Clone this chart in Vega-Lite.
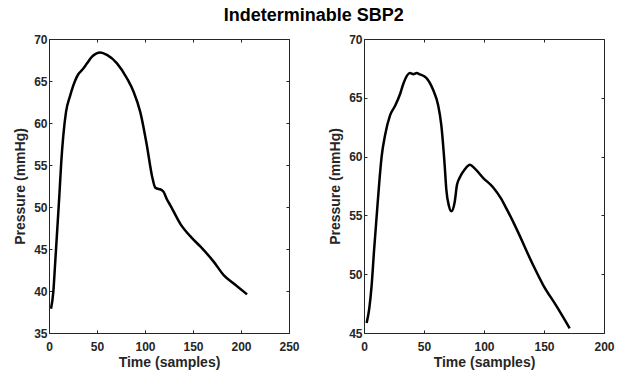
{
  "$schema": "https://vega.github.io/schema/vega-lite/v6.json",
  "background": "white",
  "padding": {"left": 13, "top": 6, "right": 10, "bottom": 0},
  "title": {"text": "Indeterminable SBP2", "anchor": "middle", "font": "Liberation Sans", "fontSize": 18, "fontWeight": "bold", "color": "#000000", "offset": 8},
  "datasets": {
    "left": [
      {"t": 2.1, "p": 37.9}, {"t": 4.5, "p": 39.9}, {"t": 6.3, "p": 43.1}, {"t": 8.7, "p": 47.5}, {"t": 10.8, "p": 51.4},
      {"t": 12.8, "p": 55.4}, {"t": 14.9, "p": 58.5}, {"t": 17.7, "p": 61.3}, {"t": 21.9, "p": 63.2}, {"t": 27.1, "p": 65.0},
      {"t": 30.5, "p": 65.8}, {"t": 34.4, "p": 66.3}, {"t": 39.6, "p": 67.1}, {"t": 44.8, "p": 67.9}, {"t": 53.5, "p": 68.4}, {"t": 60.4, "p": 68.1},
      {"t": 70.8, "p": 67.1}, {"t": 81.3, "p": 65.3}, {"t": 88.2, "p": 63.7}, {"t": 95.1, "p": 61.3}, {"t": 102, "p": 57.3},
      {"t": 107.3, "p": 53.7}, {"t": 110.8, "p": 52.3}, {"t": 117.7, "p": 52.0}, {"t": 119.4, "p": 51.8}, {"t": 122.9, "p": 50.9},
      {"t": 126.4, "p": 50.2}, {"t": 136.8, "p": 48.0}, {"t": 149, "p": 46.3}, {"t": 157.6, "p": 45.3}, {"t": 171.5, "p": 43.5},
      {"t": 181.9, "p": 41.9}, {"t": 192.4, "p": 40.9}, {"t": 206.3, "p": 39.6}
    ],
    "right": [
      {"t": 2.2, "p": 45.85}, {"t": 4.4, "p": 47.1}, {"t": 6.4, "p": 49.1}, {"t": 8.3, "p": 51.9}, {"t": 10.6, "p": 55.0},
      {"t": 12.8, "p": 57.9}, {"t": 14.7, "p": 60.0}, {"t": 17.5, "p": 61.8}, {"t": 21.7, "p": 63.5}, {"t": 25.8, "p": 64.3},
      {"t": 30, "p": 65.3}, {"t": 32.8, "p": 66.2}, {"t": 38.3, "p": 67.1}, {"t": 41.1, "p": 67.0}, {"t": 43.9, "p": 67.1},
      {"t": 46.4, "p": 67.0}, {"t": 51.9, "p": 66.7}, {"t": 57.5, "p": 65.7}, {"t": 61.7, "p": 64.4},
      {"t": 64.4, "p": 62.7}, {"t": 67.2, "p": 59.3}, {"t": 68.6, "p": 57.2}, {"t": 70.8, "p": 55.8}, {"t": 72.8, "p": 55.35},
      {"t": 75.5, "p": 56.1}, {"t": 77.5, "p": 57.6}, {"t": 79.7, "p": 58.2}, {"t": 83.9, "p": 58.9}, {"t": 88.3, "p": 59.3},
      {"t": 92.2, "p": 59.0}, {"t": 99.2, "p": 58.2}, {"t": 107.5, "p": 57.4}, {"t": 114.4, "p": 56.4}, {"t": 118.6, "p": 55.6},
      {"t": 126.9, "p": 53.9}, {"t": 140.8, "p": 50.8}, {"t": 149.2, "p": 49.1}, {"t": 160.3, "p": 47.3}, {"t": 171.4, "p": 45.4}
    ]
  },
  "spacing": 28,
  "hconcat": [
    {
      "width": 240, "height": 294,
      "data": {"name": "left"},
      "layer": [
        {
          "mark": {"type": "line", "color": "#000000", "strokeWidth": 2.5, "interpolate": "monotone"},
          "encoding": {
            "x": {"field": "t", "type": "quantitative", "scale": {"domain": [0, 250], "nice": false}, "axis": {"title": "Time (samples)", "values": [0, 50, 100, 150, 200, 250], "labelPadding": 11, "titlePadding": 3}},
            "y": {"field": "p", "type": "quantitative", "scale": {"domain": [35, 70], "nice": false, "zero": false}, "axis": {"title": "Pressure (mmHg)", "values": [35, 40, 45, 50, 55, 60, 65, 70], "titlePadding": 6}}
          }
        },
        {
          "mark": {"type": "line", "opacity": 0},
          "encoding": {
            "x": {"field": "t", "type": "quantitative", "axis": {"orient": "top", "title": null, "labels": false, "values": [0, 50, 100, 150, 200, 250], "domain": false}},
            "y": {"field": "p", "type": "quantitative", "axis": {"orient": "right", "title": null, "labels": false, "values": [35, 40, 45, 50, 55, 60, 65, 70], "domain": false}}
          }
        }
      ],
      "resolve": {"axis": {"x": "independent", "y": "independent"}}
    },
    {
      "width": 240, "height": 294,
      "data": {"name": "right"},
      "layer": [
        {
          "mark": {"type": "line", "color": "#000000", "strokeWidth": 2.5, "interpolate": "monotone"},
          "encoding": {
            "x": {"field": "t", "type": "quantitative", "scale": {"domain": [0, 200], "nice": false}, "axis": {"title": "Time (samples)", "values": [0, 50, 100, 150, 200], "labelPadding": 11, "titlePadding": 3}},
            "y": {"field": "p", "type": "quantitative", "scale": {"domain": [45, 70], "nice": false, "zero": false}, "axis": {"title": "Pressure (mmHg)", "values": [45, 50, 55, 60, 65, 70], "titlePadding": 6}}
          }
        },
        {
          "mark": {"type": "line", "opacity": 0},
          "encoding": {
            "x": {"field": "t", "type": "quantitative", "axis": {"orient": "top", "title": null, "labels": false, "values": [0, 50, 100, 150, 200], "domain": false}},
            "y": {"field": "p", "type": "quantitative", "axis": {"orient": "right", "title": null, "labels": false, "values": [45, 50, 55, 60, 65, 70], "domain": false}}
          }
        }
      ],
      "resolve": {"axis": {"x": "independent", "y": "independent"}}
    }
  ],
  "config": {
    "view": {"stroke": "#262626", "strokeWidth": 1},
    "axis": {
      "grid": false,
      "domainColor": "#262626",
      "tickColor": "#262626",
      "tickSize": -3,
      "labelFont": "Liberation Sans",
      "labelFontSize": 12,
      "labelFontWeight": "bold",
      "labelColor": "#262626",
      "labelFlush": false,
      "labelPadding": 5,
      "titleFont": "Liberation Sans",
      "titleFontSize": 14,
      "titleFontWeight": "bold",
      "titleColor": "#262626",
      "titlePadding": 3
    }
  }
}
